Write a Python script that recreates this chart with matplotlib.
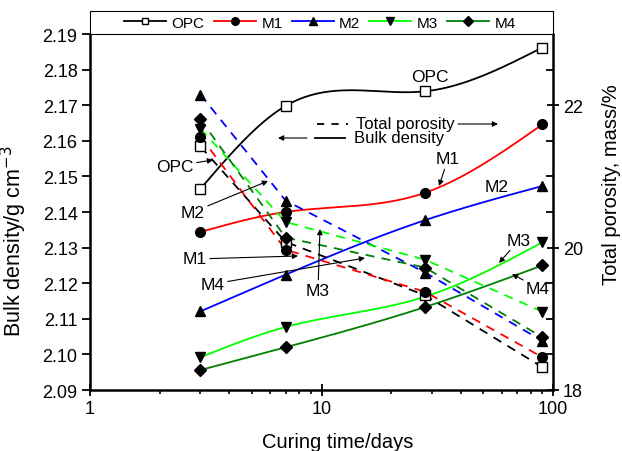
import numpy as np
import matplotlib.pyplot as plt
from matplotlib.patches import Rectangle
from matplotlib.lines import Line2D
from matplotlib.ticker import MultipleLocator, NullFormatter

plt.rcParams['font.family'] = ['Liberation Sans', 'DejaVu Sans']

days = [3, 7, 28, 90]
names = ['OPC', 'M1', 'M2', 'M3', 'M4']

# bulk density, g/cm3 (left axis)
density_opc = [2.1465, 2.1698, 2.1739, 2.1862]
density_m1 = [2.1344, 2.1400, 2.1454, 2.1646]
density_m2 = [2.1121, 2.1224, 2.1377, 2.1473]
density_m3 = [2.0992, 2.1077, 2.1162, 2.1315]
density_m4 = [2.0956, 2.1020, 2.1133, 2.1250]

# total porosity, mass % (right axis)
porosity_opc = [21.42, 20.08, 19.33, 18.32]
porosity_m1 = [21.56, 19.97, 19.38, 18.46]
porosity_m2 = [22.15, 20.66, 19.65, 18.69]
porosity_m3 = [21.67, 20.36, 19.83, 19.10]
porosity_m4 = [21.80, 20.14, 19.72, 18.74]

densities = [density_opc, density_m1, density_m2, density_m3, density_m4]
porosities = [porosity_opc, porosity_m1, porosity_m2, porosity_m3, porosity_m4]
colors = ['black', 'red', 'blue', '#00ff00', '#008000']
markers = ['s', 'o', '^', 'v', 'D']
msizes = [6.5, 7, 7.5, 7.5, 6.5]


def smooth(x, y, num=200):
    # natural cubic spline, used only to draw the curve through the points
    x = np.asarray(x, float)
    y = np.asarray(y, float)
    n = len(x)
    h = np.diff(x)
    A = np.zeros((n, n))
    r = np.zeros(n)
    A[0, 0] = A[-1, -1] = 1
    for i in range(1, n - 1):
        A[i, i - 1] = h[i - 1]
        A[i, i] = 2 * (h[i - 1] + h[i])
        A[i, i + 1] = h[i]
        r[i] = 3 * ((y[i + 1] - y[i]) / h[i] - (y[i] - y[i - 1]) / h[i - 1])
    c = np.linalg.solve(A, r)
    b = (y[1:] - y[:-1]) / h - h * (2 * c[:-1] + c[1:]) / 3
    d = (c[1:] - c[:-1]) / (3 * h)
    xs = np.linspace(x[0], x[-1], num)
    k = np.clip(np.searchsorted(x, xs) - 1, 0, n - 2)
    dx = xs - x[k]
    return xs, y[k] + b[k] * dx + c[k] * dx ** 2 + d[k] * dx ** 3


fig = plt.figure(figsize=(6.22, 4.52), dpi=100)
ax = fig.add_axes([90 / 622, 61 / 452, 463 / 622, 356 / 452])
ax2 = ax.twinx()

logd = np.log10(days)
for dens, por, col, mk, ms in zip(densities, porosities, colors, markers, msizes):
    face = 'white' if mk == 's' else 'black'
    xs, ys = smooth(logd, dens)
    ax.plot(10 ** xs, ys, color=col, lw=1.3, zorder=2)
    ax.plot(days, dens, ls='none', marker=mk, ms=ms, mfc=face, mec='black',
            mew=1, zorder=3)
    ax2.plot(days, por, color=col, lw=1.3, dashes=(5, 4), zorder=2)
    ax2.plot(days, por, ls='none', marker=mk, ms=ms, mfc=face, mec='black',
             mew=1, zorder=3)

ax.set_xscale('log')
ax.set_xlim(1, 100)
ax.set_ylim(2.09, 2.19)
ax2.set_ylim(18, 23)

ax.set_xticks([1, 10, 100])
ax.set_xticklabels(['1', '10', '100'])
ax.xaxis.set_minor_formatter(NullFormatter())
ax.set_yticks(np.arange(2.09, 2.1901, 0.01))
ax.set_yticklabels(['%.2f' % v for v in np.arange(2.09, 2.1901, 0.01)])
ax2.set_yticks([18, 20, 22])
ax2.yaxis.set_minor_locator(MultipleLocator(0.5))

ax.tick_params(axis='x', which='major', direction='inout', length=8, width=1.3,
               labelsize=13, pad=3)
ax.tick_params(axis='x', which='minor', direction='out', length=3, width=1.2)
ax.tick_params(axis='y', which='major', direction='out', length=6, width=1.3,
               labelsize=13, pad=3)
ax2.tick_params(axis='y', which='major', direction='inout', length=8, width=1.3,
                labelsize=13, pad=3)
ax2.tick_params(axis='y', which='minor', direction='in', length=5, width=1.3)

for s in ['left', 'bottom']:
    ax.spines[s].set_linewidth(1.8)
ax.spines['top'].set_linewidth(0.6)
ax.spines['top'].set_color('0.4')
ax.spines['right'].set_visible(False)
ax2.spines['right'].set_linewidth(1.8)
for s in ['left', 'bottom', 'top']:
    ax2.spines[s].set_visible(False)

ax.set_xlabel('Curing time/days', fontsize=14.5)
ax.xaxis.set_label_coords(0.536, -0.118)
ax.set_ylabel('Bulk density/g cm$^{-3}$', fontsize=15.5)
ax.yaxis.set_label_coords(-0.132, 0.42)
ax2.set_ylabel('Total porosity, mass/%', fontsize=14.5)
ax2.yaxis.set_label_coords(1.106, 0.58)

# legend box on top of the plot
box = Rectangle((0, 1), 1, 23 / 356, transform=ax2.transAxes, fill=True,
                fc='white', ec='black', lw=0.8, clip_on=False, zorder=5)
ax2.add_patch(box)
handles = []
for col, mk, ms in zip(colors, markers, msizes):
    face = 'white' if mk == 's' else 'black'
    handles.append(Line2D([], [], color=col, lw=1.3, marker=mk, ms=ms - 1.5,
                          mfc=face, mec='black'))
ax2.legend(handles, names, loc='center', bbox_to_anchor=(0.497, 1.032),
           ncol=5, frameon=False, fontsize=11, handlelength=2.75,
           handletextpad=0.35, columnspacing=0.6, borderaxespad=0)


def fx(px):
    return (px - 90) / 463


def fy(py):
    return (391 - py) / 356


# key for line styles
T = ax2.transAxes
ax2.plot([fx(317), fx(348)], [fy(125), fy(125)], transform=T, color='black',
         lw=1.3, dashes=(4, 4))
ax2.text(fx(356), fy(125), 'Total porosity', transform=T, fontsize=12,
         va='center', ha='left')
ax2.annotate('', xy=(fx(498), fy(125)), xytext=(fx(458), fy(125)),
             xycoords=T, textcoords=T,
             arrowprops=dict(arrowstyle='-|>', color='black', lw=0.8,
                             mutation_scale=8, shrinkA=0, shrinkB=0))
ax2.plot([fx(315), fx(345)], [fy(139), fy(139)], transform=T, color='black',
         lw=1.3)
ax2.text(fx(354), fy(139), 'Bulk density', transform=T, fontsize=12,
         va='center', ha='left')
ax2.annotate('', xy=(fx(278), fy(139)), xytext=(fx(307), fy(139)),
             xycoords=T, textcoords=T,
             arrowprops=dict(arrowstyle='-|>', color='black', lw=0.8,
                             mutation_scale=8, shrinkA=0, shrinkB=0))

# curve labels: (text, text centre, arrow tip or None)
labels = [
    ('OPC', (430, 78), None),
    ('OPC', (175, 167), (213, 161)),
    ('M2', (193, 213), (268, 182)),
    ('M1', (448, 160), (439, 187)),
    ('M2', (497, 188), None),
    ('M1', (195, 260), (298, 257)),
    ('M4', (213, 285), (365, 259)),
    ('M3', (318, 291), (320, 230)),
    ('M3', (519, 241), (499, 264)),
    ('M4', (538, 289), (512, 275)),
]
for txt, (tx, ty), tip in labels:
    if tip is None:
        ax2.text(fx(tx), fy(ty), txt, transform=T, fontsize=12.5,
                 ha='center', va='center')
    else:
        ax2.annotate(txt, xy=(fx(tip[0]), fy(tip[1])),
                     xytext=(fx(tx), fy(ty)), xycoords=T, textcoords=T,
                     fontsize=12.5, ha='center', va='center',
                     arrowprops=dict(arrowstyle='-|>', color='black', lw=0.8,
                                     mutation_scale=8, shrinkA=0, shrinkB=0))

fig.savefig('out.png', dpi=100)
